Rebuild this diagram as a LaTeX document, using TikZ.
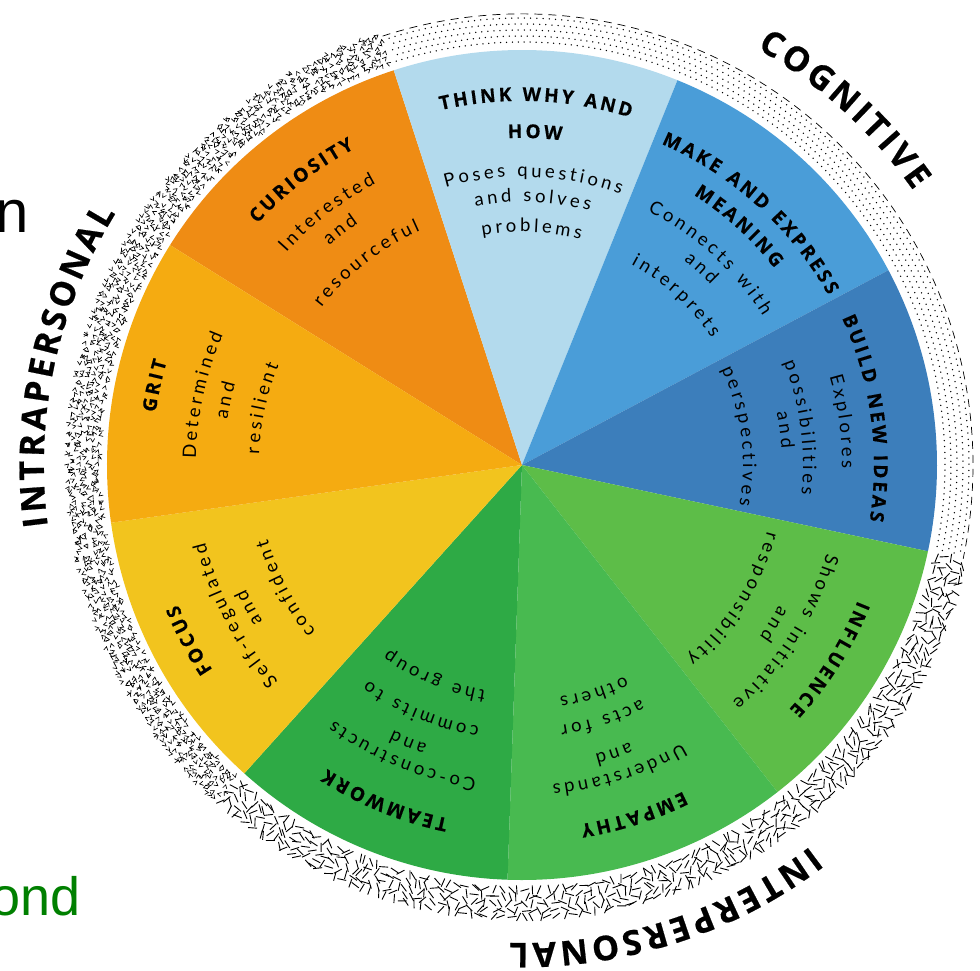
\documentclass[tikz,border=0pt]{standalone}
\usepackage{fontspec}
\usetikzlibrary{decorations.text}

\newfontfamily\titlefont[BoldFeatures={FakeBold=0.5}]{Open Sans}
\newfontfamily\descfont{Lato}
\newfontfamily\ringfont[BoldFeatures={FakeBold=0.6}]{Open Sans}
\newfontfamily\edgefont{Liberation Sans}

\definecolor{curiosity}{RGB}{239,140,20}
\definecolor{think}{RGB}{179,218,237}
\definecolor{make}{RGB}{74,157,216}
\definecolor{build}{RGB}{60,126,187}
\definecolor{influence}{RGB}{93,189,72}
\definecolor{empathy}{RGB}{72,186,80}
\definecolor{teamwork}{RGB}{46,170,69}
\definecolor{focus}{RGB}{242,196,30}
\definecolor{grit}{RGB}{245,171,17}
\definecolor{edgegreen}{RGB}{0,128,0}

% fonts for the arc texts, each letter gets a little extra room
\newcommand\ttl{\titlefont\bfseries\fontsize{19}{20}\selectfont\kern2.9pt}
\newcommand\dsc{\descfont\fontsize{18.5}{20}\selectfont\kern3.4pt}
\newcommand\rng{\ringfont\bfseries\fontsize{34}{36}\selectfont\kern3.6pt}

% one line of text on an arc round the centre, tops outward
\newcommand\arcline[3]{%
  \path[decorate,decoration={text along path,text align=center,text={#3}}]
    ({#1+80}:#2) arc[start angle={#1+80}, end angle={#1-80}, radius=#2];}

\begin{document}
\begin{tikzpicture}[x=1pt, y=1pt,
    vmark/.style={line width=0.65pt, line cap=round},
    dashmark/.style={line width=0.9pt},
  ]
  \useasboundingbox (-522,-505) rectangle (458,465);

  % cut-off words at the left edge
  \node[anchor=base east, inner sep=0pt] (cutn) at (-493,233)
    {\edgefont\fontsize{60}{60}\selectfont n};
  \node[anchor=base east, inner sep=0pt, text=edgegreen] (cutond) at (-441,-450)
    {\edgefont\fontsize{54}{54}\selectfont ond};

  % the nine sectors
  \foreach \c [count=\i] in {curiosity,think,make,build,influence,empathy,teamwork,focus,grit}{
    \pgfmathsetmacro\s{188-40*\i}
    \fill[\c] (0,0) -- (\s:415) arc[start angle=\s, end angle=\s-40, radius=415] -- cycle;
  }

  \pgfmathsetseed{11}
  % intrapersonal ring: little v marks
  \foreach \r in {424,430,436,442,448,453.5}
    \foreach \a in {108.4,109.1,...,227.6}{
      \pgfmathsetmacro\aa{\a+0.3*rand}
      \pgfmathsetmacro\rot{360*rnd}
      \draw[vmark] (\aa:\r) +({\rot+30}:4) -- (\aa:\r) -- +({\rot-30}:4);
    }
  % interpersonal ring: short dashes
  \foreach \r in {425,432,439,446,452}
    \foreach \a in {-131.6,-130.6,...,-12.4}{
      \pgfmathsetmacro\aa{\a+0.4*rand}
      \pgfmathsetmacro\rot{180*rnd}
      \draw[dashmark] (\aa:\r) +(\rot:4.5) -- +({\rot+180}:4.5);
    }
  % cognitive ring: dots and a dashed rim
  \foreach \r [count=\j] in {423,429,435,441,447}
    \foreach \a in {-11.5,-10.7,...,107.5}{
      \fill ({\a+0.4*mod(\j,2)}:\r) circle[radius=0.75];
    }
  \draw[line width=0.7pt, dash pattern=on 8pt off 6pt]
    (108:451) arc[start angle=108, end angle=-12, radius=451];

  % ring labels
  \arcline{48}{478}{|\rng|COGNITIVE}
  \arcline{168}{478}{|\rng|INTRAPERSONAL}
  \arcline{-72}{478}{|\rng|INTERPERSONAL}

  % think why and how
  \arcline{88}{364}{|\ttl|THINK WHY AND}
  \arcline{88}{327}{|\ttl|HOW}
  \arcline{88}{288}{|\dsc|Poses questions}
  \arcline{88}{263}{|\dsc|and solves}
  \arcline{88}{233}{|\dsc|problems}

  % make and express meaning
  \arcline{48}{350}{|\ttl|MAKE AND EXPRESS}
  \arcline{48}{320}{|\ttl|MEANING}
  \arcline{48}{283}{|\dsc|Connects with}
  \arcline{48}{261}{|\dsc|and}
  \arcline{48}{228}{|\dsc|interprets}

  % build new ideas
  \arcline{8}{352}{|\ttl|BUILD NEW IDEAS}
  \arcline{8}{320}{|\dsc|Explores}
  \arcline{8}{281}{|\dsc|possibilities}
  \arcline{8}{260}{|\dsc|and}
  \arcline{8}{221}{|\dsc|perspectives}

  % influence
  \arcline{-32}{362}{|\ttl|INFLUENCE}
  \arcline{-32}{317}{|\dsc|Shows initiative}
  \arcline{-32}{293}{|\dsc|and}
  \arcline{-32}{254}{|\dsc|responsibility}

  % empathy
  \arcline{-72}{364}{|\ttl|EMPATHY}
  \arcline{-72}{321}{|\dsc|Understands}
  \arcline{-72}{298}{|\dsc|and}
  \arcline{-72}{263}{|\dsc|acts for}
  \arcline{-72}{235}{|\dsc|others}

  % teamwork
  \arcline{-112}{361}{|\ttl|TEAMWORK}
  \arcline{-112}{317}{|\dsc|Co-constructs}
  \arcline{-112}{295}{|\dsc|and}
  \arcline{-112}{265}{|\dsc|commits to}
  \arcline{-112}{228}{|\dsc|the group}

  % focus
  \arcline{-152}{371}{|\ttl|FOCUS}
  \arcline{-152}{326}{|\dsc|Self-regulated}
  \arcline{-152}{303}{|\dsc|and}
  \arcline{-152}{265}{|\dsc|confident}

  % grit
  \arcline{168}{370}{|\ttl|GRIT}
  \arcline{168}{326}{|\dsc|Determined}
  \arcline{168}{298}{|\dsc|and}
  \arcline{168}{263}{|\dsc|resilient}

  % curiosity
  \arcline{128}{358}{|\ttl|CURIOSITY}
  \arcline{128}{317}{|\dsc|Interested}
  \arcline{128}{292}{|\dsc|and}
  \arcline{128}{255}{|\dsc|resourceful}
\end{tikzpicture}
\end{document}
